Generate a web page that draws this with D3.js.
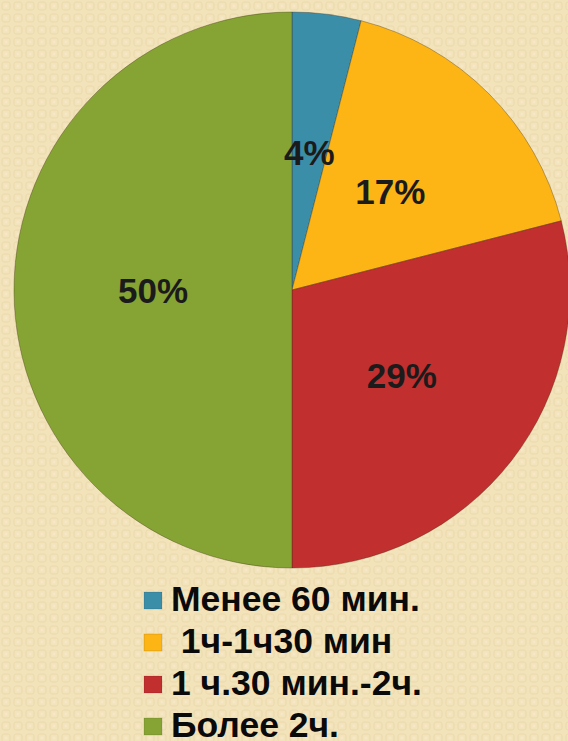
<!DOCTYPE html>
<html>
<head>
<meta charset="utf-8">
<script src="https://cdn.jsdelivr.net/npm/d3@7"></script>
<style>
html,body{margin:0;padding:0;background:#f3e3ba;}
svg{display:block;}
</style>
</head>
<body>
<svg id="chart" width="568" height="741"></svg>
<script>
const categories = ["Менее 60 мин.", " 1ч-1ч30 мин", "1 ч.30 мин.-2ч.", "Более 2ч."];
const values = [4, 17, 29, 50];
const labels = ["4%", "17%", "29%", "50%"];
const colors = ["#3b8ea8", "#fcb515", "#c22f2f", "#86a434"];

const svg = d3.select("#chart");
const W = 568, H = 741;

// background pattern
const defs = svg.append("defs");
const pat = defs.append("pattern").attr("id","bg").attr("width",12).attr("height",12)
  .attr("patternUnits","userSpaceOnUse");
pat.append("rect").attr("width",12).attr("height",12).attr("fill","#f3e3ba");
pat.append("rect").attr("x",2).attr("y",2).attr("width",8).attr("height",8).attr("rx",2)
  .attr("fill","none").attr("stroke","#ecdaad").attr("stroke-width",1);
pat.append("rect").attr("x",4.5).attr("y",4.5).attr("width",3).attr("height",3)
  .attr("fill","#f6e8c6");
svg.append("rect").attr("width",W).attr("height",H).attr("fill","url(#bg)");

const cx = 292, cy = 290, R = 278;
const pie = d3.pie().sort(null).value(d => d)(values);
const arc = d3.arc().innerRadius(0).outerRadius(R);

const g = svg.append("g").attr("transform", `translate(${cx},${cy})`);
g.selectAll("path").data(pie).join("path")
  .attr("d", arc)
  .attr("fill", (d,i) => colors[i])
  .attr("stroke", "rgba(60,40,20,0.35)")
  .attr("stroke-width", 1);

g.selectAll("text.lbl").data(pie).join("text")
  .attr("class","lbl")
  .attr("transform", d => { const c = arc.centroid(d); return `translate(${c[0]},${c[1]})`; })
  .attr("text-anchor","middle")
  .attr("dy","0.36em")
  .attr("font-family","'Liberation Sans', Arial, sans-serif")
  .attr("font-weight","bold")
  .attr("font-size", 35)
  .attr("fill","#1b1b1b")
  .text((d,i) => labels[i]);

// legend
const leg = svg.append("g");
const rowY = d3.scalePoint().domain(categories).range([611, 737]);
const rows = leg.selectAll("g").data(categories).join("g")
  .attr("transform", d => `translate(0,${rowY(d)})`);
rows.append("rect").attr("x",144).attr("y",-19).attr("width",18).attr("height",17)
  .attr("fill",(d,i)=>colors[i]).attr("stroke","rgba(0,0,0,0.15)").attr("stroke-width",0.8);
rows.append("text").attr("x",171).attr("y",0)
  .attr("xml:space","preserve").style("white-space","pre")
  .attr("font-family","'Liberation Sans', Arial, sans-serif")
  .attr("font-weight","bold").attr("font-size",35.5).attr("fill","#0a0a0a")
  .text(d=>d);
</script>
</body>
</html>
